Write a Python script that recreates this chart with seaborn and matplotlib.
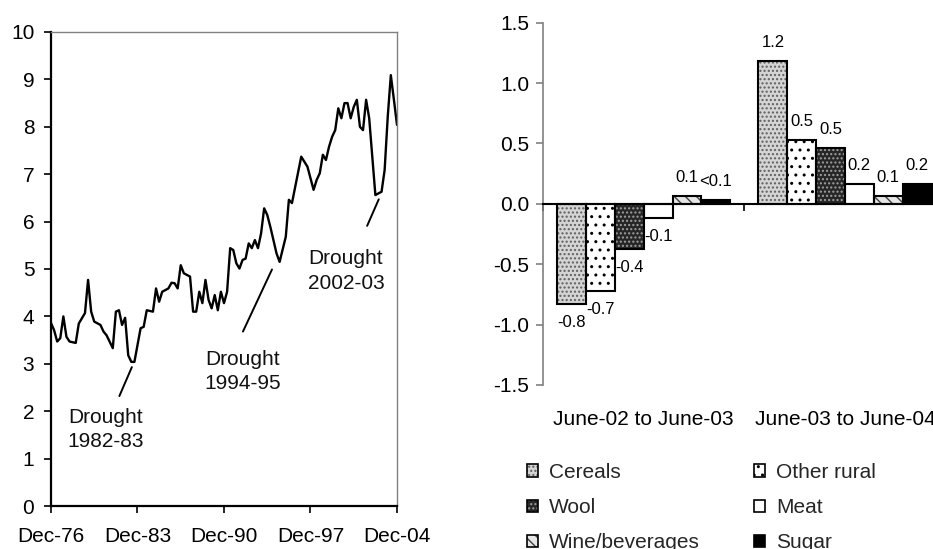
import numpy as np
import pandas as pd
import matplotlib
matplotlib.use("Agg")
import matplotlib.pyplot as plt
import matplotlib.transforms as mtransforms
from matplotlib.patches import Patch
import seaborn as sns

# ---------------- Left panel: quarterly series ----------------
quarter_dates = [
    "1976-12", "1977-03", "1977-06", "1977-09", "1977-12", "1978-03", "1978-06",
    "1978-12", "1979-03", "1979-09", "1979-12", "1980-03", "1980-06", "1980-12",
    "1981-03", "1981-06", "1981-12", "1982-03", "1982-06", "1982-09", "1982-12",
    "1983-03", "1983-06", "1983-09", "1984-03", "1984-06", "1984-09", "1985-03",
    "1985-06", "1985-09", "1985-12", "1986-06", "1986-09", "1986-12", "1987-03",
    "1987-06", "1987-09", "1988-03", "1988-06", "1988-09", "1988-12", "1989-03",
    "1989-06", "1989-09", "1989-12", "1990-03", "1990-06", "1990-09", "1990-12",
    "1991-03", "1991-06", "1991-09", "1991-12", "1992-03", "1992-06", "1992-09",
    "1992-12", "1993-03", "1993-06", "1993-09", "1993-12", "1994-03", "1994-06",
    "1994-09", "1995-03", "1995-06", "1995-12", "1996-03", "1996-06", "1997-03",
    "1997-09", "1998-03", "1998-06", "1998-09", "1998-12", "1999-03", "1999-06",
    "1999-09", "1999-12", "2000-03", "2000-06", "2000-09", "2000-12", "2001-03",
    "2001-06", "2001-09", "2001-12", "2002-03", "2002-06", "2002-09", "2003-03",
    "2003-09", "2003-12", "2004-03", "2004-06", "2004-09", "2004-12",
]
index_values = [
    3.86, 3.71, 3.47, 3.54, 4.00, 3.57, 3.47,
    3.44, 3.85, 4.07, 4.77, 4.10, 3.89, 3.82,
    3.68, 3.60, 3.33, 4.10, 4.13, 3.82, 3.97,
    3.18, 3.04, 3.04, 3.75, 3.78, 4.13, 4.10,
    4.59, 4.31, 4.52, 4.59, 4.71, 4.70, 4.59,
    5.08, 4.91, 4.84, 4.10, 4.10, 4.52, 4.28,
    4.77, 4.35, 4.17, 4.45, 4.13, 4.52, 4.28,
    4.52, 5.44, 5.40, 5.12, 5.01, 5.19, 5.22,
    5.54, 5.44, 5.61, 5.44, 5.75, 6.28, 6.14,
    5.89, 5.33, 5.15, 5.68, 6.46, 6.39, 7.37,
    7.16, 6.67, 6.88, 7.02, 7.41, 7.30, 7.58,
    7.79, 7.93, 8.39, 8.18, 8.50, 8.50, 8.18,
    8.42, 8.57, 8.00, 7.93, 8.57, 8.18, 6.56,
    6.63, 7.09, 8.21, 9.09, 8.57, 8.04,
]

x_tick_labels = ["Dec-76", "Dec-83", "Dec-90", "Dec-97", "Dec-04"]
y_tick_values = list(range(0, 11))

# Drought call-outs (decimal years / index units)
drought_labels = ["Drought\n1982-83", "Drought\n1994-95", "Drought\n2002-03"]
drought_text_x = [1981.37, 1992.39, 2000.78]
drought_text_y = [1.62, 2.83, 4.96]
drought_line_x0 = [1982.45, 1992.45, 2002.50]
drought_line_y0 = [2.32, 3.68, 5.91]
drought_line_x1 = [1983.46, 1994.80, 2003.44]
drought_line_y1 = [2.93, 4.99, 6.47]

# ---------------- Right panel: contributions by commodity ----------------
periods = ["June-02 to June-03", "June-03 to June-04"]
commodities = ["Cereals", "Other rural", "Wool", "Meat", "Wine/beverages", "Sugar"]
changes_0203 = [-0.83, -0.72, -0.37, -0.12, 0.066, 0.033]
changes_0304 = [1.18, 0.53, 0.46, 0.163, 0.066, 0.163]

face_colors = ["#d4d4d4", "#ffffff", "#262626", "#ffffff", "#e6e6e6", "#000000"]
hatches = ["....", "..", "....", "", "\\\\\\", ""]
hatch_colors = ["#5e5e5e", "#000000", "#a0a0a0", "#000000", "#404040", "#000000"]


def decimal_year(s):
    y, m = (int(p) for p in s.split("-"))
    return y + (m - 1) / 12.0


def value_label(v):
    return "<0.1" if abs(v) < 0.05 else f"{v:.1f}"


sns.set_theme(style="white")
plt.rcParams["font.family"] = ["Liberation Sans", "DejaVu Sans"]
plt.rcParams["axes.unicode_minus"] = False
plt.rcParams["hatch.linewidth"] = 1.0

W, H = 933, 549
fig = plt.figure(figsize=(W / 100, H / 100), dpi=100)

# ---- left axes ----
ax1 = fig.add_axes([51 / W, 1 - 506 / H, 346 / W, 474 / H])
series = pd.DataFrame({
    "year": [decimal_year(d) for d in quarter_dates],
    "value": index_values,
})
sns.lineplot(data=series, x="year", y="value", ax=ax1, color="black",
             linewidth=1.7, sort=True, errorbar=None)

start = decimal_year("1976-12")
ax1.set_xlim(start, start + 28)
ax1.set_ylim(0, 10)
ax1.set_xticks([start + 7 * k for k in range(len(x_tick_labels))])
ax1.set_xticklabels(x_tick_labels)
ax1.set_yticks(y_tick_values)
ax1.set_yticklabels([str(v) for v in y_tick_values])
ax1.set_xlabel("")
ax1.set_ylabel("")
ax1.tick_params(axis="both", which="major", bottom=True, left=True,
                direction="out", length=5, width=1.2, color="black",
                labelsize=15, labelcolor="black")
ax1.tick_params(axis="y", pad=7)
ax1.tick_params(axis="x", pad=10)
for side in ("left", "bottom"):
    ax1.spines[side].set_color("black")
    ax1.spines[side].set_linewidth(1.6)
for side in ("top", "right"):
    ax1.spines[side].set_color("#808080")
    ax1.spines[side].set_linewidth(1.0)

for lab, tx, ty, x0, y0, x1, y1 in zip(drought_labels, drought_text_x, drought_text_y,
                                       drought_line_x0, drought_line_y0,
                                       drought_line_x1, drought_line_y1):
    ax1.plot([x0, x1], [y0, y1], color="black", linewidth=1.4)
    ax1.text(tx, ty, lab, ha="center", va="center", fontsize=15,
             linespacing=1.35, color="#111111")

# ---- right axes ----
ax2 = fig.add_axes([543 / W, 1 - 385 / H, 402.6 / W, 362.3 / H])
bars = pd.DataFrame({
    "period": np.repeat(periods, len(commodities)),
    "commodity": commodities * len(periods),
    "change": changes_0203 + changes_0304,
})
sns.barplot(data=bars, x="period", y="change", hue="commodity",
            order=periods, hue_order=commodities,
            palette=dict(zip(commodities, face_colors)), saturation=1,
            width=0.86, errorbar=None, legend=False, ax=ax2)
fill_containers = list(ax2.containers)
for cont, h, hc in zip(fill_containers, hatches, hatch_colors):
    for bar in cont:
        bar.set_hatch(h)
        bar.set_edgecolor(hc)
        bar.set_linewidth(0)

# black outlines over the patterned fills
sns.barplot(data=bars, x="period", y="change", hue="commodity",
            order=periods, hue_order=commodities,
            palette=dict(zip(commodities, ["black"] * len(commodities))),
            fill=False, linewidth=1.5, width=0.86, errorbar=None,
            legend=False, ax=ax2)

for cont, vals in zip(fill_containers, zip(changes_0203, changes_0304)):
    ax2.bar_label(cont, labels=[value_label(v) for v in vals], padding=8,
                  fontsize=12, color="black")

ax2.set_xlim(-0.5, len(periods) - 0.5)
ax2.set_ylim(-1.5, 1.5)
yt = np.arange(-1.5, 1.51, 0.5)
ax2.set_yticks(yt)
ax2.set_yticklabels([f"{t:.1f}" for t in yt])
ax2.set_xticks(np.arange(len(periods) + 1) - 0.5)
ax2.set_xticklabels([])
ax2.set_xlabel("")
ax2.set_ylabel("")
ax2.spines["top"].set_visible(False)
ax2.spines["right"].set_visible(False)
ax2.spines["left"].set_color("#808080")
ax2.spines["left"].set_linewidth(1.2)
ax2.spines["bottom"].set_position(("data", 0))
ax2.spines["bottom"].set_color("black")
ax2.spines["bottom"].set_linewidth(1.5)
ax2.tick_params(axis="y", left=True, direction="out", length=5, width=1.2,
                color="#808080", labelsize=15, labelcolor="black", pad=5)
ax2.tick_params(axis="x", bottom=True, direction="out", length=5, width=1.2,
                color="black")

trans = mtransforms.blended_transform_factory(ax2.transData, ax2.transAxes)
for i, p in enumerate(periods):
    ax2.text(i, -0.094, p, transform=trans, ha="center", va="center",
             fontsize=15, color="black", clip_on=False)

# legend (column-major: three rows by two columns)
legend_order = [0, 2, 4, 1, 3, 5]
handles = []
labels = []
for k in legend_order:
    handles.append((Patch(facecolor=face_colors[k], hatch=hatches[k],
                          edgecolor=hatch_colors[k], linewidth=0),
                    Patch(facecolor="none", edgecolor="black", linewidth=1.2)))
    labels.append(commodities[k])
fig.legend(handles, labels, loc="upper left",
           bbox_to_anchor=(527 / W, 1 - 463 / H), ncol=2, frameon=False,
           fontsize=15, handlelength=0.55, handleheight=0.55,
           handletextpad=0.5, columnspacing=2.6, labelspacing=0.78,
           borderpad=0, borderaxespad=0)

fig.savefig("out.png", dpi=100)
